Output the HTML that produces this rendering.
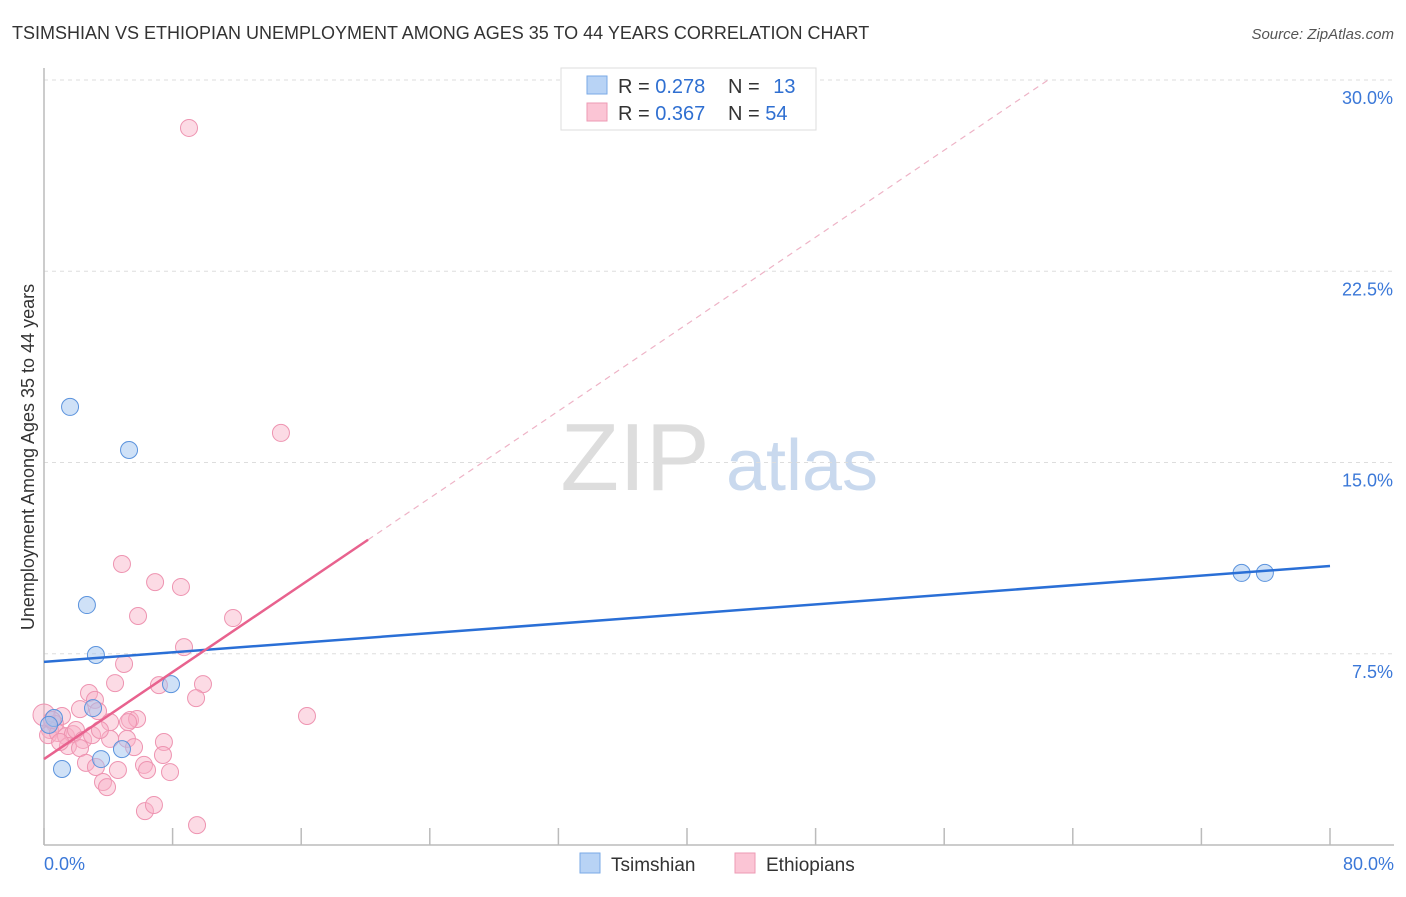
<!DOCTYPE html>
<html><head><meta charset="utf-8"><style>
body{margin:0;background:#fff;font-family:"Liberation Sans",sans-serif;}
svg text{font-family:"Liberation Sans",sans-serif;}
</style></head><body>
<svg id="chart" width="1406" height="892" viewBox="0 0 1406 892" xmlns="http://www.w3.org/2000/svg">
<text x="12" y="39" font-size="18" fill="#333">TSIMSHIAN VS ETHIOPIAN UNEMPLOYMENT AMONG AGES 35 TO 44 YEARS CORRELATION CHART</text>
<text x="1394" y="39" font-size="15" fill="#555" font-style="italic" text-anchor="end">Source: ZipAtlas.com</text>
<g>
<text x="635" y="490" font-size="96" fill="#ddd" font-family="Liberation Serif" text-anchor="middle">ZIP</text>
<text x="802" y="490" font-size="72" fill="#c9d9ee" text-anchor="middle">atlas</text>
</g>
<g id="grid"></g>
<g id="axes"></g>
<text transform="translate(34,457) rotate(-90)" font-size="18" fill="#333" text-anchor="middle">Unemployment Among Ages 35 to 44 years</text>
<g id="lines"></g>
<g id="points"></g>
<g>
<rect x="561" y="68" width="255" height="62" fill="#fff" stroke="#ddd"/>
<rect x="587" y="76" width="20" height="18" fill="#b8d3f5" stroke="#7aaae6"/>
<rect x="587" y="103" width="20" height="18" fill="#fbc5d5" stroke="#ee9ab4"/>
<text x="618" y="93" font-size="20" fill="#333">R = <tspan fill="#2f6fd1">0.278</tspan></text>
<text x="728" y="93" font-size="20" fill="#333">N = <tspan fill="#2f6fd1" dx="8">13</tspan></text>
<text x="618" y="120" font-size="20" fill="#333">R = <tspan fill="#2f6fd1">0.367</tspan></text>
<text x="728" y="120" font-size="20" fill="#333">N = <tspan fill="#2f6fd1">54</tspan></text>
</g>
<g>
<rect x="580" y="853" width="20" height="20" fill="#b8d3f5" stroke="#7aaae6"/>
<text x="611" y="871" font-size="19" fill="#333">Tsimshian</text>
<rect x="735" y="853" width="20" height="20" fill="#fbc5d5" stroke="#ee9ab4"/>
<text x="766" y="871" font-size="19" fill="#333">Ethiopians</text>
</g>
</svg>
<script>
const xTicks=[0,8,16,24,32,40,48,56,64,72,80];
const yTicks=[7.5,15,22.5,30];
const yTickLabels=["7.5%","15.0%","22.5%","30.0%"];
const xEndLabels=["0.0%","80.0%"];
const tsimX=[1.62,5.29,2.67,3.23,7.9,3.05,4.85,3.55,1.12,0.62,0.31,74.5,75.95];
const tsimY=[17.18,15.49,9.41,7.45,6.31,5.37,3.76,3.37,2.98,4.98,4.71,10.67,10.67];
const ethX=[9.02,14.74,4.85,6.91,8.52,5.85,11.76,8.71,4.98,2.8,4.42,7.15,9.89,9.46,3.17,2.24,3.36,5.35,5.79,1.12,16.36,0.68,0.37,0.25,0.87,1.37,1.8,1.99,2.43,1.49,2.24,4.11,5.16,5.6,7.46,7.4,2.61,3.23,4.6,6.22,6.41,7.84,3.67,3.92,6.28,6.84,9.52,0.0,0.5,4.11,1.0,2.99,5.23,3.48];
const ethY=[28.12,16.16,11.02,10.31,10.12,8.98,8.9,7.76,7.1,5.96,6.35,6.27,6.31,5.76,5.69,5.33,5.25,4.9,4.94,5.06,5.06,4.75,4.51,4.31,4.39,4.27,4.35,4.51,4.12,3.88,3.8,4.16,4.16,3.84,4.04,3.53,3.22,3.06,2.94,3.14,2.94,2.86,2.47,2.27,1.33,1.57,0.78,5.1,4.9,4.82,4.04,4.31,4.82,4.51];
const tsimLine=[[0,7.18],[80,10.94]];
const ethLine=[[0,3.37],[20.16,11.97]];
const ethDash=[[20.16,11.97],[62.46,30]];
const NS='http://www.w3.org/2000/svg';
const X=v=>44+v*16.075, Y=v=>845-v*25.5;
function mk(tag,attrs,parent){const e=document.createElementNS(NS,tag);for(const k in attrs)e.setAttribute(k,attrs[k]);parent.appendChild(e);return e;}
const grid=document.getElementById('grid'),axes=document.getElementById('axes'),lines=document.getElementById('lines'),pts=document.getElementById('points');
yTicks.forEach((t,i)=>{
 const g=mk('line',{x1:44,x2:1394,y1:Y(t),y2:Y(t),stroke:'#ddd','stroke-dasharray':'4,4'},grid);
 
 
 const tx=mk('text',{x:1393,y:Y(t)+24,'font-size':18,fill:'#3b78d8','text-anchor':'end'},axes);
 tx.textContent=yTickLabels[i];
 
 
});
const ax=mk('line',{x1:44,x2:44,y1:68,y2:845,stroke:'#bbb','stroke-width':1.5},axes);


const bx=mk('line',{x1:44,x2:1394,y1:845,y2:845,stroke:'#bbb','stroke-width':1.5},axes);


xTicks.forEach(t=>{
 const l=mk('line',{x1:X(t),x2:X(t),y1:828,y2:845,stroke:'#bbb','stroke-width':1.5},axes);
 
 
});
[[0,'start',44],[80,'end',1394]].forEach((d,i)=>{
 const tx=mk('text',{x:d[2],y:870,'font-size':18,fill:'#3b78d8','text-anchor':d[1]},axes);
 tx.textContent=xEndLabels[i];
 
 
});
const dl=mk('line',{x1:X(ethDash[0][0]),y1:Y(ethDash[0][1]),x2:X(ethDash[1][0]),y2:Y(ethDash[1][1]),stroke:'#eeb3c6','stroke-width':1.2,'stroke-dasharray':'6,5'},lines);


for(let i=0;i<ethX.length;i++){
 const c=mk('circle',{cx:X(ethX[i]),cy:Y(ethY[i]),r:i==47?11:8.5,fill:'rgba(248,176,198,0.45)',stroke:'#ee94b1','stroke-width':1},pts);
 
 
}
for(let i=0;i<tsimX.length;i++){
 const c=mk('circle',{cx:X(tsimX[i]),cy:Y(tsimY[i]),r:8.5,fill:'rgba(160,196,240,0.5)',stroke:'#5b93dd','stroke-width':1},pts);
 
 
}
const bl=mk('line',{x1:X(tsimLine[0][0]),y1:Y(tsimLine[0][1]),x2:X(tsimLine[1][0]),y2:Y(tsimLine[1][1]),stroke:'#2a6fd6','stroke-width':2.5},pts);


const pl=mk('line',{x1:X(ethLine[0][0]),y1:Y(ethLine[0][1]),x2:X(ethLine[1][0]),y2:Y(ethLine[1][1]),stroke:'#e8628e','stroke-width':2.5},pts);


</script>
</body></html>
